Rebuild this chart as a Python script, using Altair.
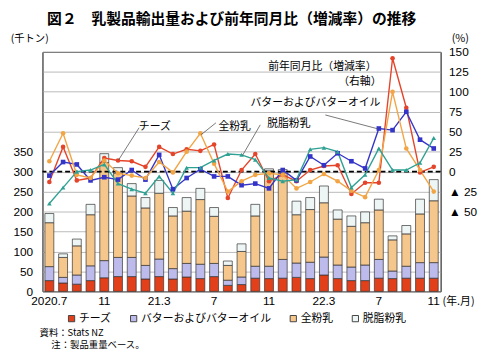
import altair as alt
import pandas as pd

months = ["2020.07", "2020.08", "2020.09", "2020.10", "2020.11", "2020.12",
          "2021.01", "2021.02", "2021.03", "2021.04", "2021.05", "2021.06",
          "2021.07", "2021.08", "2021.09", "2021.10", "2021.11", "2021.12",
          "2022.01", "2022.02", "2022.03", "2022.04", "2022.05", "2022.06",
          "2022.07", "2022.08", "2022.09", "2022.10", "2022.11"]
tick_labels = {"2020.07": "2020.7", "2020.11": "11", "2021.03": "21.3", "2021.07": "7",
               "2021.11": "11", "2022.03": "22.3", "2022.07": "7", "2022.11": "11"}

items = ["チーズ", "バターおよびバターオイル", "全粉乳", "脱脂粉乳"]

# export volume (thousand tonnes)
cheese_kt = [27, 21, 18, 27, 34, 37, 37, 31, 37, 31, 36, 32, 37, 15, 17, 33, 32, 33, 35, 32, 41, 32, 27, 27, 33, 32, 33, 33, 33]
butter_kt = [35, 14, 23, 37, 43, 48, 48, 34, 44, 26, 34, 36, 33, 13, 19, 30, 31, 47, 36, 41, 45, 34, 34, 39, 47, 19, 30, 39, 39]
wmp_kt = [110, 50, 73, 128, 246, 211, 154, 144, 165, 132, 131, 162, 118, 37, 64, 126, 239, 217, 121, 132, 136, 115, 102, 106, 124, 78, 81, 122, 155]
smp_kt = [23, 9, 17, 26, 22, 14, 31, 26, 32, 21, 34, 28, 22, 11, 19, 29, 5, 8, 34, 30, 42, 23, 26, 27, 27, 10, 21, 37, 53]

# year-on-year change (%)
cheese_pct = [-13, 31, -11, -8, 17, 14, 13, 6, 31, 22, 28, 26, 34, -33, 2, 22, -12, -4, -12, 2, 7, 8, -28, -14, -14, 142, 80, -1, 6]
butter_pct = [-5, 12, 9, -11, -7, -10, 2, -10, 21, -22, -8, 3, -6, -6, -17, -15, -21, 2, -11, 19, 8, 23, 13, 4, 54, 52, 75, 40, 29]
wmp_pct = [13, 48, -4, -8, 14, -2, -5, -8, 12, -1, 25, 48, 10, -25, -12, -4, -2, -4, -21, -13, -3, -12, -24, -32, 2, 100, 29, 2, -25]
smp_pct = [-40, -20, 0, 2, 9, -15, -22, -27, -6, -27, 5, 5, 14, 22, 21, 15, -8, -12, -10, 28, 30, 25, -20, -4, 29, 2, 2, 11, 42]

right_ticks = [-50, -25, 0, 25, 50, 75, 100, 125, 150]

bar_colors = ["#e2401a", "#bdbaec", "#f6c78c", "#eef5f5"]
line_colors = ["#e4452a", "#3434c8", "#f2a545", "#2fa193"]
shapes = ["circle", "square", "circle", "triangle-up"]

JP = "Noto Sans CJK JP"
NUM = "Liberation Sans"

rows = []
for k, series in enumerate([cheese_kt, butter_kt, wmp_kt, smp_kt]):
    for m, v in zip(months, series):
        rows.append({"month": m, "item": items[k], "ord": k, "value": v})
bar_df = pd.DataFrame(rows)

lrows = []
for k, series in enumerate([cheese_pct, butter_pct, wmp_pct, smp_pct]):
    for m, v in zip(months, series):
        lrows.append({"month": m, "series": items[k], "ord": k, "pct": v})
line_df = pd.DataFrame(lrows)

x_expr = " : ".join(f"datum.value == '{k}' ? '{v}'" for k, v in tick_labels.items()) + " : ''"

xenc = alt.X("month:O", sort=months,
             scale=alt.Scale(paddingInner=0.35, paddingOuter=0.175),
             axis=alt.Axis(title=None, labelExpr=x_expr, labelAngle=0, ticks=False, domain=False,
                           labelOverlap=False, labelFont=NUM, labelFontSize=12, labelColor="black",
                           labelPadding=4, grid=False))

bars = alt.Chart(bar_df).mark_bar(stroke="#333333", strokeWidth=0.7).encode(
    x=xenc,
    y=alt.Y("value:Q", stack="zero", scale=alt.Scale(domain=[0, 600], nice=False),
            axis=alt.Axis(title=None, values=list(range(0, 601, 50)),
                          labelExpr="datum.value <= 350 ? datum.label : ''",
                          grid=True, gridColor="#a8a8a8", gridWidth=0.8, ticks=False, domain=False,
                          labelOverlap=False,
                          labelFont=NUM, labelFontSize=12, labelColor="black", labelPadding=10)),
    color=alt.Color("item:N", scale=alt.Scale(domain=items, range=bar_colors),
                    legend=alt.Legend(orient="none", legendX=24, legendY=265, direction="horizontal",
                                      title=None, symbolType="square", symbolSize=40,
                                      symbolStrokeColor="#444444", symbolStrokeWidth=1,
                                      labelFont=JP, labelFontSize=11, labelColor="black",
                                      columnPadding=17, labelOffset=2)),
    order=alt.Order("ord:Q"),
)

right_axis = alt.Axis(title=None, orient="right", values=right_ticks, tickCount=len(right_ticks),
                      labelExpr="datum.value < 0 ? '▲ ' + abs(datum.value) : '' + datum.value",
                      labelOverlap=False, labelBound=False,
                      grid=False, ticks=False, domain=False, labelFont=NUM, labelFontSize=12,
                      labelColor="black", labelPadding=8)
yscale = alt.Scale(domain=[-150, 150], nice=False, zero=False)

lines = alt.Chart(line_df).mark_line(strokeWidth=1.4).encode(
    x=alt.X("month:O", sort=months),
    y=alt.Y("pct:Q", scale=yscale, axis=right_axis),
    color=alt.Color("series:N", scale=alt.Scale(domain=items, range=line_colors), legend=None),
    detail="series:N",
)
points = alt.Chart(line_df).mark_point(filled=True, size=22, opacity=1).encode(
    x=alt.X("month:O", sort=months),
    y=alt.Y("pct:Q", scale=yscale, axis=right_axis),
    color=alt.Color("series:N", scale=alt.Scale(domain=items, range=line_colors), legend=None),
    shape=alt.Shape("series:N", scale=alt.Scale(domain=items, range=shapes), legend=None),
)
zero = alt.Chart(pd.DataFrame({"pct": [0]})).mark_rule(color="black", strokeDash=[5, 3], strokeWidth=1.6).encode(
    y=alt.Y("pct:Q", scale=yscale, axis=right_axis)
)
line_group = alt.layer(zero, lines, points)

one = pd.DataFrame({"a": [0]})


def txt(s, x, y, size=11, align="center", weight="normal", font=JP, baseline="middle"):
    return alt.Chart(one).mark_text(text=s, fontSize=size, align=align, font=font, fontWeight=weight,
                                    baseline=baseline, color="black").encode(
        x=alt.value(x), y=alt.value(y))


def leader(x1, y1, x2, y2):
    return alt.Chart(one).mark_rule(color="#555555", strokeWidth=0.8).encode(
        x=alt.value(x1), y=alt.value(y1), x2=alt.value(x2), y2=alt.value(y2))


annotations = [
    txt("図２　乳製品輸出量および前年同月比（増減率）の推移", 192, -40, size=15, weight="bold", baseline="top"),
    txt("(千トン)", -13, -13, size=10.5),
    txt("(%)", 424, -13, size=11),
    txt("前年同月比（増減率）", 284, 15),
    txt("（右軸）", 322, 31),
    txt("バターおよびバターオイル", 277, 52),
    txt("脱脂粉乳", 250, 73),
    txt("全粉乳", 195, 76),
    txt("チーズ", 114, 76),
    leader(287, 64, 340, 78),
    leader(221, 74, 203, 105),
    leader(176, 72, 161, 84),
    leader(98, 77, 77, 110),
    txt("(年.月)", 406, 254, size=11, align="left"),
    txt("資料：Stats NZ", -3, 285, size=9.5, align="left"),
    txt("注：製品重量ベース。", 9, 297.5, size=9.5, align="left"),
]

chart = alt.layer(bars, line_group, *annotations).resolve_scale(
    y="independent", color="independent", shape="independent"
).properties(
    width=404, height=243,
    padding={"left": 35, "top": 42, "right": 42, "bottom": 59},
    autosize=alt.AutoSizeParams(type="none"),
).configure_view(stroke="black", strokeWidth=1)

chart.save("out.html", embed_options={"renderer": "svg", "actions": False})
